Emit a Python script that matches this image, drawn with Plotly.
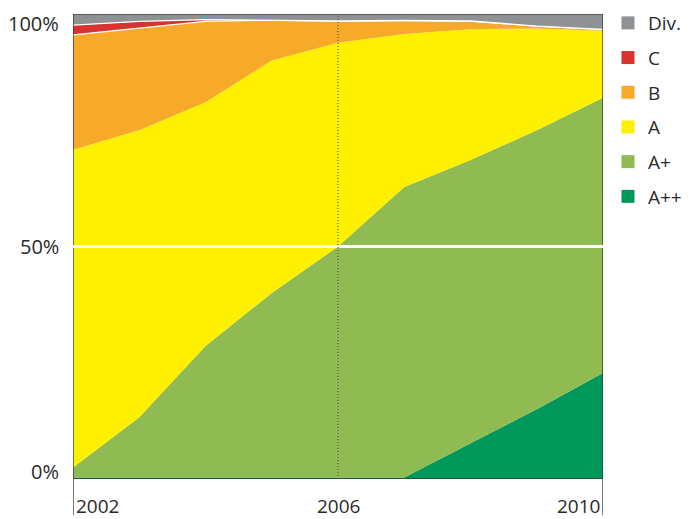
import plotly.graph_objects as go

years = [2002, 2003, 2004, 2005, 2006, 2007, 2008, 2009, 2010]
a_pp = [0.3, 0.3, 0.3, 0.3, 0.3, 0.3, 7.7, 15.0, 22.8]
a_p = [2.2, 13.0, 28.3, 39.7, 49.7, 62.5, 60.9, 60.0, 59.2]
a = [68.3, 61.7, 52.4, 50.0, 43.8, 32.9, 28.1, 21.9, 14.4]
b = [24.7, 22.0, 17.4, 8.7, 4.7, 2.9, 1.8, 0.5, 0.3]
c = [2.1, 1.4, 0.4, 0.0, 0.0, 0.0, 0.0, 0.0, 0.0]
div = [2.4, 1.6, 1.2, 1.3, 1.5, 1.4, 1.5, 2.6, 3.3]

series_names = ["A++", "A+", "A", "B", "C", "Div."]
series_values = [a_pp, a_p, a, b, c, div]
series_colors = ["#00975a", "#8fbb52", "#fff000", "#f7aa2a", "#d9332f", "#8e9295"]
line_colors = [None, None, None, "white", "white", None]

y_ticks = [0, 50, 100]
y_tick_text = ["0%", "50%", "100%"]
x_labels = [2002, 2006, 2010]

FONT = "Open Sans, Noto Sans, sans-serif"
TXT = "#2a2a2a"

fig = go.Figure()
for name, vals, col, lc in zip(series_names, series_values, series_colors, line_colors):
    fig.add_trace(go.Scatter(
        x=years, y=vals, name=name, stackgroup="one", mode="lines",
        line=dict(width=1.3 if lc else 0, color=lc or col),
        fillcolor=col, showlegend=False, hoverinfo="skip"))

# legend entries (square swatches), top to bottom
for i, (name, col) in enumerate(reversed(list(zip(series_names, series_colors)))):
    fig.add_trace(go.Scatter(
        x=[None], y=[None], mode="markers", name=name, legendgroup=str(i),
        marker=dict(symbol="square", size=13, color=col, line=dict(width=0))))

# axis frame lines extending below plot at 2002 and 2010
for xv in [years[0], years[-1]]:
    fig.add_shape(type="line", xref="x", yref="paper", x0=xv, x1=xv, y0=-0.078, y1=1,
                  line=dict(color="#333", width=1.3), layer="above")
# top and bottom border
fig.add_shape(type="line", xref="paper", yref="y", x0=0, x1=1, y0=100, y1=100,
              line=dict(color="#444", width=1.3), layer="above")
fig.add_shape(type="line", xref="paper", yref="y", x0=0, x1=1, y0=0, y1=0,
              line=dict(color="#3a3a2a", width=1.5), layer="above")
# white 50% line
fig.add_shape(type="line", xref="paper", yref="y", x0=0, x1=1, y0=50, y1=50,
              line=dict(color="white", width=3), layer="above")
# dotted line at 2006
fig.add_shape(type="line", xref="x", yref="y", x0=2006, x1=2006, y0=0, y1=100,
              line=dict(color="#444", width=1, dash="1px,2px"), layer="above")

# y labels
for v, t in zip(y_ticks, y_tick_text):
    shift = {0: 8, 50: 0, 100: -9}[v]
    fig.add_annotation(x=0, xref="paper", y=v, yref="y", text=t, showarrow=False,
                       xanchor="right", xshift=-12, yshift=shift,
                       font=dict(family=FONT, size=20, color=TXT))
# x labels
for xv in x_labels:
    anchor = "left" if xv == years[0] else ("right" if xv == years[-1] else "center")
    xs = 1 if anchor == "left" else (-1 if anchor == "right" else 0)
    fig.add_annotation(x=xv, xref="x", y=0, yref="paper", text=str(xv), showarrow=False,
                       xanchor=anchor, yanchor="top", xshift=xs, yshift=-12,
                       font=dict(family=FONT, size=19, color=TXT))

# page body has an 8px default margin, so the figure is 8px smaller
fig.update_layout(
    width=684, height=511,
    margin=dict(l=65, r=89, t=6, b=40, autoexpand=False),
    paper_bgcolor="white", plot_bgcolor="white",
    showlegend=True,
    legend=dict(x=1.0094, xanchor="left", y=1.0215, yanchor="top",
                font=dict(family=FONT, size=19, color=TXT),
                tracegroupgap=7, itemwidth=30, bgcolor="rgba(0,0,0,0)"),
    xaxis=dict(range=[2002, 2010], showgrid=False, zeroline=False, showticklabels=False,
               ticks="", showline=False),
    yaxis=dict(range=[0, 100], showgrid=False, zeroline=False, showticklabels=False,
               ticks="", showline=False),
)

fig.write_html("out.html")
